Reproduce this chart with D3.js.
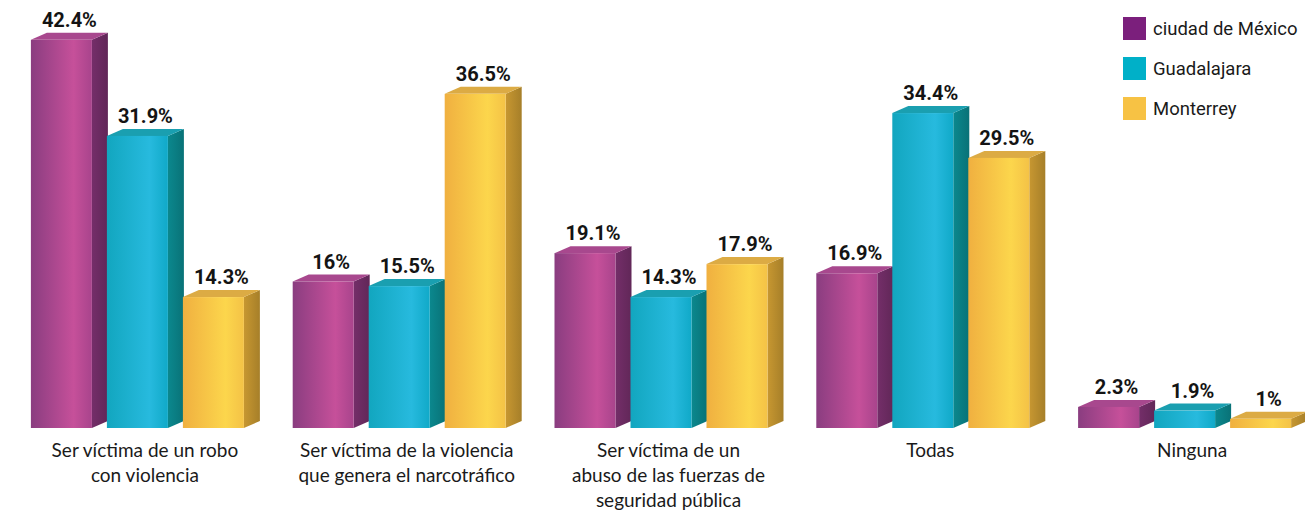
<!DOCTYPE html>
<html>
<head>
<meta charset="utf-8">
<script src="https://cdn.jsdelivr.net/npm/d3@7/dist/d3.min.js"></script>
<style>
  html, body { margin: 0; padding: 0; background: #fff; }
  svg { display: block; }
</style>
</head>
<body>
<svg id="chart" width="1305" height="514"></svg>
<script>
// ---- data ----
const categories = [
  "Ser víctima de un robo con violencia",
  "Ser víctima de la violencia que genera el narcotráfico",
  "Ser víctima de un abuso de las fuerzas de seguridad pública",
  "Todas",
  "Ninguna"
];
const categoryLines = [
  ["Ser víctima de un robo", "con violencia"],
  ["Ser víctima de la violencia", "que genera el narcotráfico"],
  ["Ser víctima de un", "abuso de las fuerzas de", "seguridad pública"],
  ["Todas"],
  ["Ninguna"]
];
const seriesNames = ["ciudad de México", "Guadalajara", "Monterrey"];
const cdmx        = [42.4, 16, 19.1, 16.9, 2.3];
const guadalajara = [31.9, 15.5, 14.3, 34.4, 1.9];
const monterrey   = [14.3, 36.5, 17.9, 29.5, 1];
const valueLabels = [
  ["42.4%", "16%", "19.1%", "16.9%", "2.3%"],
  ["31.9%", "15.5%", "14.3%", "34.4%", "1.9%"],
  ["14.3%", "36.5%", "17.9%", "29.5%", "1%"]
];
const seriesValues = [cdmx, guadalajara, monterrey];

// ---- styles ----
const palette = [
  { legend: "#7b1f7c", f0: "#8a3d80", f1: "#c6509a", f2: "#a8448c", side: "#6c2b62", top: "#a8488e" },
  { legend: "#00b0c8", f0: "#12a6bf", f1: "#27bade", f2: "#10a9c8", side: "#0a7f84", top: "#1a9fb0" },
  { legend: "#f7c244", f0: "#f0b040", f1: "#fcd64c", f2: "#f4c246", side: "#b98d2e", top: "#dcab44" }
];

const svg = d3.select("#chart");
const defs = svg.append("defs");
palette.forEach((p, i) => {
  const g = defs.append("linearGradient").attr("id", "front" + i)
    .attr("x1", "0%").attr("x2", "100%").attr("y1", "0%").attr("y2", "0%");
  g.append("stop").attr("offset", "0%").attr("stop-color", p.f0);
  g.append("stop").attr("offset", "70%").attr("stop-color", p.f1);
  g.append("stop").attr("offset", "100%").attr("stop-color", p.f2);
  const s = defs.append("linearGradient").attr("id", "side" + i)
    .attr("x1", "0%").attr("x2", "100%").attr("y1", "0%").attr("y2", "0%");
  s.append("stop").attr("offset", "0%").attr("stop-color", d3.color(p.side).brighter(0.2));
  s.append("stop").attr("offset", "100%").attr("stop-color", d3.color(p.side).darker(0.3));
});

// ---- scales ----
const baseY = 428;
const x0 = d3.scaleBand().domain(categories).range([14, 1323]).padding(0);
const groupW = 228;
const x1 = d3.scaleBand().domain(seriesNames)
  .range([x0.bandwidth() / 2 - groupW / 2, x0.bandwidth() / 2 + groupW / 2]).padding(0);
const y = d3.scaleLinear().domain([0, 45]).range([baseY, 16]);

const dx = 16, dy = -7;
const frontW = x1.bandwidth() - dx + 1;

const bars = [];
categories.forEach((c, ci) => {
  seriesNames.forEach((s, si) => {
    bars.push({ c, ci, s, si, v: seriesValues[si][ci], label: valueLabels[si][ci] });
  });
});

const g = svg.append("g");
const barG = g.selectAll("g.bar").data(bars).join("g").attr("class", "bar");

barG.each(function(d) {
  const el = d3.select(this);
  const xl = x0(d.c) + x1(d.s);
  const xr = xl + frontW;
  const yt = y(d.v);
  const yb = y(0);
  el.append("path")
    .attr("d", `M${xr},${yt} L${xr + dx},${yt + dy} L${xr + dx},${yb + dy} L${xr},${yb} Z`)
    .attr("fill", `url(#side${d.si})`);
  el.append("path")
    .attr("d", `M${xl},${yt} L${xl + dx},${yt + dy} L${xr + dx},${yt + dy} L${xr},${yt} Z`)
    .attr("fill", palette[d.si].top);
  el.append("rect")
    .attr("x", xl).attr("y", yt).attr("width", frontW).attr("height", yb - yt)
    .attr("fill", `url(#front${d.si})`);
  el.append("text")
    .attr("x", xl + (frontW + dx) / 2)
    .attr("y", yt + dy - 6)
    .attr("text-anchor", "middle")
    .attr("font-family", "Roboto, 'DejaVu Sans', sans-serif")
    .attr("font-weight", "bold")
    .attr("font-size", 20)
    .attr("fill", "#141414")
    .text(d.label);
});

// ---- category axis ----
const axis = d3.axisBottom(x0).tickSize(0).tickPadding(0);
const axG = svg.append("g").attr("transform", `translate(0,${baseY})`).call(axis);
axG.select(".domain").remove();
axG.selectAll(".tick text").each(function(d, i) {
  const t = d3.select(this);
  t.text(null)
    .attr("y", 0)
    .attr("dy", null)
    .attr("font-family", "Lato, 'Open Sans', sans-serif")
    .attr("font-size", 19)
    .attr("fill", "#1a1a1a");
  categoryLines[i].forEach((line, li) => {
    t.append("tspan").attr("x", 0).attr("y", 29 + li * 25).text(line);
  });
});

// ---- legend ----
const legend = svg.append("g").attr("transform", "translate(1123,17)");
const lg = legend.selectAll("g").data(seriesNames).join("g")
  .attr("transform", (d, i) => `translate(0,${i * 40})`);
lg.append("rect").attr("width", 23).attr("height", 23)
  .attr("fill", (d, i) => palette[i].legend);
lg.append("text").attr("x", 30).attr("y", 18)
  .attr("font-family", "Roboto, sans-serif")
  .attr("font-size", 18.5)
  .attr("fill", "#1a1a1a")
  .text(d => d);
</script>
</body>
</html>
